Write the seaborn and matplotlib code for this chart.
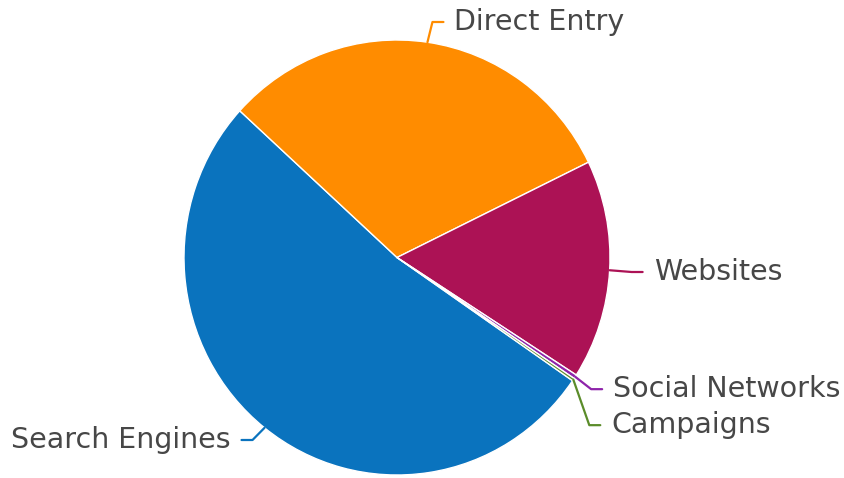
import matplotlib
matplotlib.use('Agg')
import matplotlib.pyplot as plt
import seaborn as sns
import numpy as np

categories = ['Search Engines', 'Direct Entry', 'Websites', 'Social Networks', 'Campaigns']
shares = [52.2, 31.0, 16.3, 0.3, 0.2]
colors = ['#0a73be', '#ff8c00', '#ac1255', '#8e24aa', '#5b8c2a']

sns.set_theme(style='white')
plt.rcParams['font.family'] = ['DejaVu Sans']

W, H = 845, 478
fig = plt.figure(figsize=(W / 100, H / 100), dpi=100)
ax = fig.add_axes([0, 0, 1, 1])

sx = 426 / 435          # horizontal squeeze of the reference pie
cx_px, cy, r = 397, H - 257.5, 217.5
cx = cx_px / sx

wedges, _ = ax.pie(shares, colors=colors, startangle=-34.5, counterclock=False,
                   center=(cx, cy), radius=r,
                   wedgeprops=dict(edgecolor='white', linewidth=1))
ax.set_xlim(0, W / sx)
ax.set_ylim(0, H)
ax.set_aspect('auto')
ax.axis('off')

# label layout
info = []
for w, lab, col in zip(wedges, categories, colors):
    mid = np.deg2rad((w.theta1 + w.theta2) / 2)
    ex, ey = cx + r * np.cos(mid), cy + r * np.sin(mid)
    side = 1 if np.cos(mid) >= 0 else -1
    ly = cy + (r + 30) * np.sin(mid)
    ly = min(max(ly, 38), H - 22)
    info.append(dict(lab=lab, col=col, ex=ex, ey=ey, side=side, ly=ly))

# resolve collisions on each side
for s in (1, -1):
    items = sorted([d for d in info if d['side'] == s], key=lambda d: -d['ly'])
    for a, b in zip(items, items[1:]):
        if a['ly'] - b['ly'] < 36:
            a['ly'] += 4
            b['ly'] = a['ly'] - 36

gaps = {'Direct Entry': 27, 'Websites': 44, 'Search Engines': 34}
for d in info:
    s = d['side']
    g = gaps.get(d['lab'], 38)
    lx = d['ex'] + s * g / sx
    bx = lx - s * 22 / sx
    endx = lx - s * 11 / sx
    ax.plot([d['ex'], bx, endx], [d['ey'], d['ly'], d['ly']], color=d['col'],
            lw=1.6, solid_capstyle='round', solid_joinstyle='round')
    ax.text(lx, d['ly'], d['lab'], fontsize=20.5, color='#474747',
            ha='left' if s > 0 else 'right', va='center')

fig.savefig('out.png', dpi=100)
